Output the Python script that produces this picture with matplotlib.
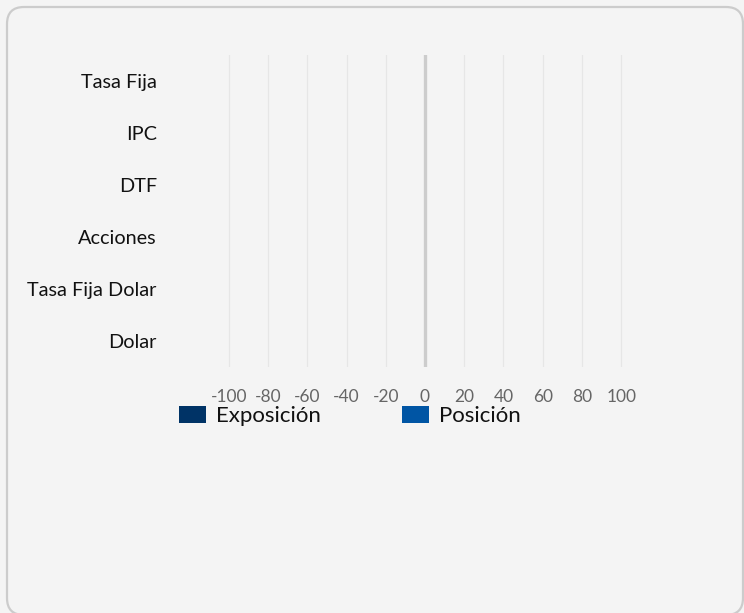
import matplotlib
matplotlib.use("Agg")
import matplotlib.pyplot as plt
from matplotlib.patches import FancyBboxPatch

# categories (top to bottom) and series values -- the chart has no visible bars
categorias = ["Tasa Fija", "IPC", "DTF", "Acciones", "Tasa Fija Dolar", "Dolar"]
exposicion = [0, 0, 0, 0, 0, 0]
posicion = [0, 0, 0, 0, 0, 0]
x_ticks = [-100, -80, -60, -40, -20, 0, 20, 40, 60, 80, 100]

plt.rcParams['font.family'] = ['Lato', 'DejaVu Sans']

W, H, DPI = 744, 613, 100
fig = plt.figure(figsize=(W / DPI, H / DPI), dpi=DPI)
fig.patch.set_facecolor('#f4f4f4')

# rounded card border (inches)
card = FancyBboxPatch((7 / DPI, -2 / DPI), (736) / DPI, (H - 7 + 2) / DPI,
                      boxstyle="round,pad=0,rounding_size=0.17",
                      transform=fig.dpi_scale_trans, facecolor='none',
                      edgecolor='#cccccc', linewidth=1.6, zorder=-1)
fig.patches.append(card)

ax = fig.add_axes([170 / W, 1 - 367 / H, (680 - 170) / W, (367 - 55) / H])
ax.set_facecolor('none')
ax.set_zorder(2)

y = list(range(len(categorias)))
b1 = ax.barh([v - 0.15 for v in y], exposicion, height=0.3, color='#003366', label='Exposición')
b2 = ax.barh([v + 0.15 for v in y], posicion, height=0.3, color='#0055A4', label='Posición')

ax.set_xlim(-130, 130)
ax.set_ylim(len(categorias) - 0.5, -0.5)
ax.set_yticks(y)
ax.set_yticklabels(categorias, fontsize=14.3, color='#111111')
ax.set_xticks(x_ticks)
ax.set_xticklabels([str(t) for t in x_ticks], fontsize=12.5, color='#666666')
ax.tick_params(axis='both', length=0)
ax.tick_params(axis='x', pad=15.5)
ax.tick_params(axis='y', pad=9.5)

for t in x_ticks:
    if t == 0:
        ax.axvline(t, color='#cccccc', linewidth=2.4, zorder=1)
    else:
        ax.axvline(t, color='#e6e6e6', linewidth=0.9, zorder=1)

for s in ax.spines.values():
    s.set_visible(False)

fig.legend(handles=[b1, b2], labels=['Exposición', 'Posición'],
           loc='center left', bbox_to_anchor=(179 / W, 1 - 416 / H),
           ncol=2, frameon=False, fontsize=16, borderpad=0, borderaxespad=0,
           handlelength=1.22, handleheight=0.81, handletextpad=0.45,
           columnspacing=3.65, labelcolor='#111111')

fig.savefig('out.png', dpi=DPI, facecolor=fig.get_facecolor())
